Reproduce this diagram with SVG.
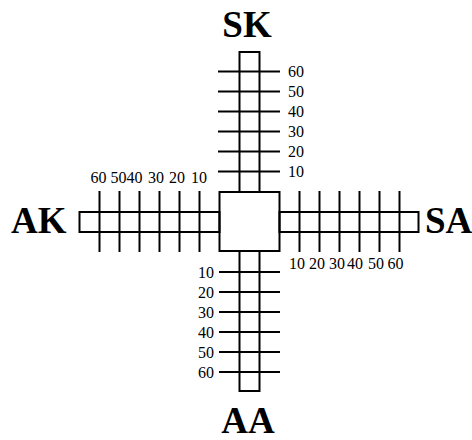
<svg xmlns="http://www.w3.org/2000/svg" width="472" height="440" viewBox="0 0 472 440">
<style>
.s{fill:none;stroke:#000;stroke-width:2}
.t{stroke:#000;stroke-width:2}
.n{font-family:'Liberation Serif','Times New Roman','DejaVu Serif',serif;font-size:16px;fill:#000}
.h{font-family:'Liberation Serif','Times New Roman','DejaVu Serif',serif;font-size:37px;font-weight:bold;fill:#000}
</style>
<rect width="472" height="440" fill="#fff"/>
<g id="center"><rect class="s" x="219.5" y="192" width="60" height="59"/></g>
<g id="sk">
<rect class="s" x="239.5" y="52" width="20" height="140"/>
<g class="t">
<line x1="218" y1="71.5" x2="280" y2="71.5"/><line x1="218" y1="91.5" x2="280" y2="91.5"/><line x1="218" y1="111.5" x2="280" y2="111.5"/><line x1="218" y1="131.5" x2="280" y2="131.5"/><line x1="218" y1="151.5" x2="280" y2="151.5"/><line x1="218" y1="171.5" x2="280" y2="171.5"/>
</g>
<text class="n" x="288" y="77">60</text><text class="n" x="288" y="97">50</text><text class="n" x="288" y="117">40</text><text class="n" x="288" y="137">30</text><text class="n" x="288" y="157">20</text><text class="n" x="288" y="177">10</text>
<text class="h" x="247" y="37" text-anchor="middle">SK</text>
</g>
<g id="aa">
<rect class="s" x="239.5" y="251" width="20" height="140"/>
<g class="t">
<line x1="219" y1="272" x2="280" y2="272"/><line x1="219" y1="292" x2="280" y2="292"/><line x1="219" y1="312" x2="280" y2="312"/><line x1="219" y1="332" x2="280" y2="332"/><line x1="219" y1="352" x2="280" y2="352"/><line x1="219" y1="372" x2="280" y2="372"/>
</g>
<text class="n" x="214" y="277.5" text-anchor="end">10</text><text class="n" x="214" y="297.5" text-anchor="end">20</text><text class="n" x="214" y="317.5" text-anchor="end">30</text><text class="n" x="214" y="337.5" text-anchor="end">40</text><text class="n" x="214" y="357.5" text-anchor="end">50</text><text class="n" x="214" y="377.5" text-anchor="end">60</text>
<text class="h" x="248" y="433" text-anchor="middle">AA</text>
</g>
<g id="ak">
<rect class="s" x="79.5" y="212" width="140" height="20"/>
<g class="t">
<line x1="99.5" y1="191" x2="99.5" y2="252"/><line x1="119.5" y1="191" x2="119.5" y2="252"/><line x1="139.5" y1="191" x2="139.5" y2="252"/><line x1="159.5" y1="191" x2="159.5" y2="252"/><line x1="179.5" y1="191" x2="179.5" y2="252"/><line x1="199.5" y1="191" x2="199.5" y2="252"/>
</g>
<g text-anchor="middle"><text class="n" x="98.5" y="183">60</text><text class="n" x="118.5" y="183">50</text><text class="n" x="134.5" y="183">40</text><text class="n" x="156" y="183">30</text><text class="n" x="177" y="183">20</text><text class="n" x="199" y="183">10</text></g>
<text class="h" x="11" y="233">AK</text>
</g>
<g id="sa">
<rect class="s" x="279.5" y="212" width="139" height="20"/>
<g class="t">
<line x1="299.5" y1="191" x2="299.5" y2="252"/><line x1="319.5" y1="191" x2="319.5" y2="252"/><line x1="339.5" y1="191" x2="339.5" y2="252"/><line x1="359.5" y1="191" x2="359.5" y2="252"/><line x1="379.5" y1="191" x2="379.5" y2="252"/><line x1="399.5" y1="191" x2="399.5" y2="252"/>
</g>
<g text-anchor="middle"><text class="n" x="297" y="269">10</text><text class="n" x="317" y="269">20</text><text class="n" x="337" y="269">30</text><text class="n" x="355" y="269">40</text><text class="n" x="376" y="269">50</text><text class="n" x="395.5" y="269">60</text></g>
<text class="h" x="425" y="233">SA</text>
</g>
</svg>
